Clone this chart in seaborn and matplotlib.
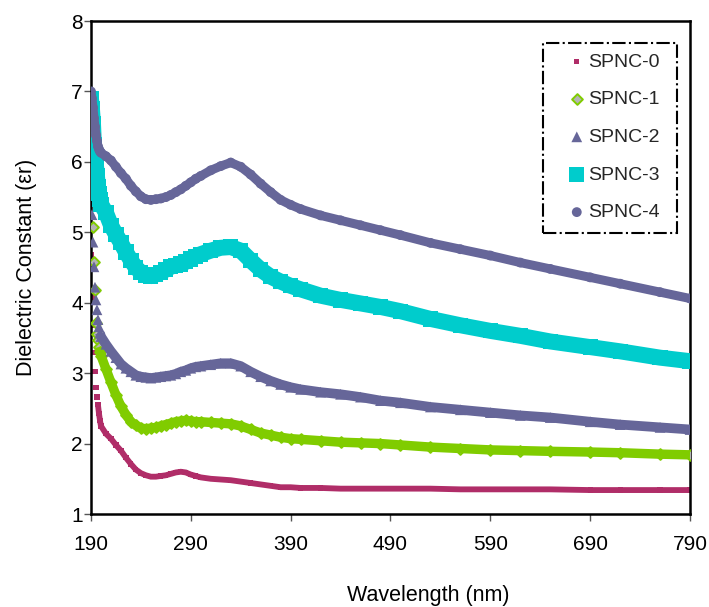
import numpy as np
import pandas as pd
import matplotlib
matplotlib.use("Agg")
import matplotlib.pyplot as plt
from matplotlib.patches import Rectangle
import seaborn as sns

# wavelength grid (nm)
wavelength = [190, 191, 192, 193, 194, 195, 196, 197, 198, 199, 200,
              205, 210, 215, 220, 225, 230, 235, 240, 245, 250, 255, 260,
              265, 270, 275, 280, 285, 290, 295, 300, 310, 320, 330, 340,
              350, 360, 370, 380, 390, 400, 420, 440, 460, 480, 500, 530,
              560, 590, 620, 650, 690, 720, 760, 790]

spnc0 = [4.68, 4.08, 3.68, 3.29, 3.02, 2.80, 2.66, 2.55, 2.43, 2.33, 2.25,
         2.14, 2.07, 1.98, 1.90, 1.80, 1.71, 1.63, 1.58, 1.55, 1.53, 1.53, 1.54,
         1.55, 1.57, 1.59, 1.60, 1.59, 1.56, 1.54, 1.52, 1.50, 1.49, 1.48, 1.46,
         1.44, 1.42, 1.40, 1.38, 1.38, 1.37, 1.37, 1.36, 1.36, 1.36, 1.36, 1.36,
         1.35, 1.35, 1.35, 1.35, 1.34, 1.34, 1.34, 1.34]

spnc1 = [6.05, 5.56, 5.08, 4.58, 4.18, 3.71, 3.55, 3.47, 3.37, 3.30, 3.25,
         3.06, 2.87, 2.69, 2.53, 2.41, 2.31, 2.26, 2.22, 2.21, 2.22, 2.23, 2.25,
         2.27, 2.29, 2.31, 2.32, 2.33, 2.32, 2.31, 2.31, 2.30, 2.29, 2.28, 2.25,
         2.20, 2.15, 2.12, 2.09, 2.07, 2.06, 2.04, 2.02, 2.01, 2.00, 1.98, 1.95,
         1.93, 1.91, 1.90, 1.89, 1.88, 1.87, 1.85, 1.84]

spnc2 = [5.77, 5.25, 4.86, 4.51, 4.22, 4.04, 3.90, 3.76, 3.66, 3.57, 3.52,
         3.41, 3.31, 3.22, 3.13, 3.07, 3.02, 2.97, 2.95, 2.94, 2.93, 2.94, 2.95,
         2.96, 2.97, 2.99, 3.02, 3.04, 3.07, 3.09, 3.10, 3.12, 3.14, 3.14, 3.10,
         3.02, 2.95, 2.89, 2.84, 2.80, 2.77, 2.73, 2.70, 2.66, 2.61, 2.58, 2.52,
         2.48, 2.44, 2.40, 2.37, 2.31, 2.27, 2.23, 2.20]

spnc3 = [6.90, 6.75, 6.55, 6.25, 6.02, 5.95, 5.80, 5.65, 5.55, 5.47, 5.40,
         5.28, 5.10, 4.97, 4.85, 4.72, 4.60, 4.50, 4.43, 4.39, 4.38, 4.40, 4.43,
         4.47, 4.51, 4.53, 4.55, 4.58, 4.62, 4.66, 4.69, 4.74, 4.78, 4.79, 4.74,
         4.60, 4.47, 4.37, 4.30, 4.24, 4.19, 4.10, 4.04, 3.99, 3.94, 3.88, 3.77,
         3.68, 3.60, 3.53, 3.45, 3.37, 3.31, 3.22, 3.17]

spnc4 = [7.00, 6.90, 6.77, 6.62, 6.50, 6.38, 6.30, 6.22, 6.18, 6.15, 6.13,
         6.08, 6.02, 5.93, 5.84, 5.76, 5.66, 5.58, 5.51, 5.47, 5.46, 5.47, 5.48,
         5.50, 5.53, 5.57, 5.61, 5.66, 5.71, 5.76, 5.80, 5.88, 5.94, 5.99, 5.93,
         5.82, 5.69, 5.57, 5.46, 5.39, 5.33, 5.24, 5.17, 5.10, 5.03, 4.96, 4.85,
         4.76, 4.67, 4.57, 4.48, 4.36, 4.27, 4.15, 4.06]

names = ['SPNC-0', 'SPNC-1', 'SPNC-2', 'SPNC-3', 'SPNC-4']
series = [spnc0, spnc1, spnc2, spnc3, spnc4]

# style per sample: colour, marker, marker area, band width, where the band starts
colors = ['#B02D68', '#80CC00', '#666699', '#00CCCC', '#666699']
markers = ['s', 'D', '^', 's', 'o']
sizes = [14, 30, 60, 120, 50]
band_lw = [4.2, 6.8, 7.0, 11.5, 6.5]
line_from = [197, 198, 199, 190, 190]

df = pd.concat([pd.DataFrame({'wavelength': wavelength, 'eps': v, 'sample': n})
                for n, v in zip(names, series)], ignore_index=True)

sns.set_theme(style="ticks")
plt.rcParams['font.family'] = ['Liberation Sans', 'DejaVu Sans']

fig = plt.figure(figsize=(7.09, 6.07), dpi=100)
ax = fig.add_axes([0.1283, 0.1532, 0.8449, 0.8122])

for i, name in enumerate(names):
    sub = df[df['sample'] == name]
    band = sub[sub['wavelength'] >= line_from[i]]
    if markers[i] == 'D':
        sns.scatterplot(data=sub, x='wavelength', y='eps', ax=ax, marker='D',
                        s=sizes[i], color='#B4B4B4', edgecolor=colors[i],
                        linewidth=1.4, zorder=2 + i, label=name)
    else:
        sns.scatterplot(data=sub, x='wavelength', y='eps', ax=ax, marker=markers[i],
                        s=sizes[i], color=colors[i], edgecolor='none',
                        linewidth=0, zorder=2 + i, label=name)
    # dense markers in the original merge into a solid band
    sns.lineplot(data=band, x='wavelength', y='eps', ax=ax, color=colors[i],
                 lw=band_lw[i], solid_capstyle='butt', solid_joinstyle='miter',
                 zorder=2.5 + i, legend=False)

ax.set_xlim(190, 790)
ax.set_ylim(1, 8)
ax.set_xticks(np.arange(190, 791, 100))
ax.set_yticks(np.arange(1, 9, 1))

for side in ['left', 'right', 'top', 'bottom']:
    ax.spines[side].set_visible(True)
    ax.spines[side].set_color('black')
    ax.spines[side].set_linewidth(1.8)

ax.tick_params(axis='x', direction='out', length=5, width=1, color='#555555',
               labelsize=15, pad=10, labelcolor='black')
ax.tick_params(axis='y', direction='out', length=5, width=1, color='#555555',
               labelsize=15, pad=1, labelcolor='black')

ax.set_xlabel('Wavelength (nm)', fontsize=15.5, color='black')
ax.set_ylabel('Dielectric Constant (εr)', fontsize=15.5, color='black')
ax.xaxis.set_label_coords(0.563, -0.145)
ax.yaxis.set_label_coords(-0.09, 0.5)

# legend: markers only, inside a dash-dot box
leg = ax.legend(loc='upper left', bbox_to_anchor=(0.798, 0.935), frameon=False,
                fontsize=14, handlelength=0.8, handletextpad=0.2,
                labelspacing=1.03, borderpad=0, borderaxespad=0)
ax.add_patch(Rectangle((0.755, 0.570), 0.223, 0.385, transform=ax.transAxes,
                       fill=False, edgecolor='black', linestyle='-.', lw=1.5,
                       zorder=10, clip_on=False))

fig.savefig('out.png', dpi=100)
